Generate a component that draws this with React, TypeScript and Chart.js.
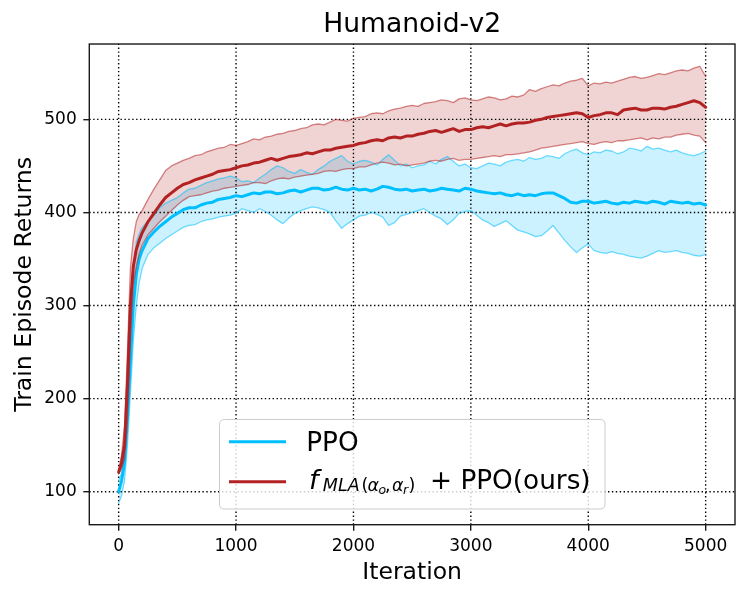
import React, { useEffect, useRef } from 'react';
import { Chart, registerables } from 'chart.js';

Chart.register(...registerables);

// ---------------- data ----------------
const iterations = [
  0, 25, 50, 75, 100, 125, 150, 175, 200, 250, 300, 350, 400, 450,
  500, 550, 600, 650, 700, 750, 800, 850, 900, 950,
  1000, 1050, 1100, 1150, 1200, 1250, 1300, 1350, 1400, 1450,
  1500, 1550, 1600, 1650, 1700, 1750, 1800, 1850, 1900, 1950,
  2000, 2050, 2100, 2150, 2200, 2250, 2300, 2350, 2400, 2450,
  2500, 2550, 2600, 2650, 2700, 2750, 2800, 2850, 2900, 2950,
  3000, 3050, 3100, 3150, 3200, 3250, 3300, 3350, 3400, 3450,
  3500, 3550, 3600, 3650, 3700, 3750, 3800, 3850, 3900, 3950,
  4000, 4050, 4100, 4150, 4200, 4250, 4300, 4350, 4400, 4450,
  4500, 4550, 4600, 4650, 4700, 4750, 4800, 4850, 4900, 4950,
  5000,
];

// PPO (blue)
const ppoMean = [
  100, 112, 131, 180, 240, 300, 333, 350, 359, 372, 379, 385, 390, 395,
  399, 403, 405, 405, 408, 410, 411, 414, 415, 416,
  418, 417, 419, 421, 420, 422, 422, 420, 421, 423,
  424, 422, 424, 426, 426, 424, 425, 427, 425, 424,
  426, 424, 425, 423, 425, 428, 427, 425, 424, 425,
  423, 424, 425, 423, 424, 426, 425, 424, 423, 426,
  425, 423, 422, 421, 420, 421, 419, 418, 420, 418,
  419, 418, 420, 421, 421, 418, 415, 411, 410, 412,
  412, 410, 411, 412, 410, 409, 411, 410, 412, 411,
  410, 412, 411, 409, 412, 411, 410, 411, 409, 410,
  408,
];
const ppoUpper = [
  112, 120, 146, 205, 270, 338, 368, 377, 384, 391, 397, 405, 410, 413,
  416, 421, 425, 426, 429, 432, 434, 436, 437, 439,
  437, 433, 434, 432, 437, 441, 446, 450, 448, 444,
  442, 446, 443, 441, 446, 450, 455, 458, 461, 455,
  452, 455, 456, 454, 451, 457, 462, 456, 450, 452,
  448, 450, 451, 455, 452, 457, 460, 455, 450, 452,
  448, 447, 450, 453, 452, 450, 454, 456, 457, 455,
  459, 457, 458, 461, 460, 458, 463, 466, 468, 464,
  462, 465, 464, 467, 466, 463, 465, 469, 468, 466,
  471, 468, 469, 467, 465, 467, 464, 462, 461, 463,
  466,
];
const ppoLower = [
  88, 96, 112, 150, 205, 262, 300, 325, 340, 355, 362, 367, 372, 376,
  380, 384, 386, 387, 390, 392, 393, 395, 396, 397,
  399, 404, 402, 400, 404, 401, 397, 392, 388, 394,
  399, 402, 404, 406, 405, 403, 400, 391, 383, 388,
  392, 396, 397, 400, 398, 395, 386, 389, 396, 398,
  400, 402, 404, 400, 396, 393, 387, 392, 399, 401,
  402, 397, 392, 389, 385, 388, 391, 386, 381, 379,
  377, 374, 375, 380, 386, 378, 370, 363, 357, 362,
  366, 359, 357, 356, 358, 356, 355, 353, 352, 351,
  353, 356, 359, 357, 358, 359, 357, 356, 354, 353,
  355,
];

// f_MLA + PPO (red)
const mlaMean = [
  121, 131, 150, 215, 300, 342, 360, 370, 378, 390, 399, 408, 416, 421,
  426, 430, 432, 435, 437, 439, 441, 444, 445, 446,
  448, 450, 451, 453, 454, 456, 458, 456, 458, 460,
  461, 462, 464, 463, 465, 467, 467, 469, 470, 471,
  472, 474, 475, 477, 478, 477, 480, 481, 480, 482,
  482, 484, 485, 487, 488, 486, 488, 490, 487, 489,
  489, 491, 492, 491, 493, 495, 493, 495, 496, 496,
  497, 499, 500, 502, 503, 504, 505, 506, 507, 506,
  502, 504, 505, 507, 507, 505, 510, 511, 512, 510,
  510, 512, 512, 511, 513, 514, 516, 518, 520, 518,
  513,
];
const mlaUpper = [
  123, 140, 170, 250, 340, 372, 390, 398, 402, 414, 425, 435, 445, 450,
  453, 456, 458, 461, 462, 465, 467, 469, 470, 473,
  472, 474, 476, 479, 478, 481, 482, 484, 485, 487,
  488, 490, 491, 494, 495, 494, 497, 500, 499, 498,
  501, 502, 503, 506, 507, 506, 509, 511, 512, 514,
  515, 514, 517, 518, 519, 521, 520, 518, 522, 523,
  521, 520, 522, 524, 523, 521, 522, 525, 524, 526,
  532, 530, 533, 535, 537, 536, 539, 541, 542, 544,
  536, 539, 538, 540, 539, 541, 543, 545, 546, 544,
  545, 547, 549, 548, 550, 552, 553, 552, 555, 557,
  546,
];
const mlaLower = [
  119, 125, 135, 175, 262, 322, 342, 356, 365, 376, 383, 390, 396, 402,
  408, 413, 417, 418, 419, 421, 423, 424, 426, 427,
  428, 429, 430, 432, 432, 431, 434, 436, 437, 436,
  438, 439, 440, 441, 442, 444, 445, 444, 446, 447,
  447, 449, 449, 451, 453, 454, 453, 451, 452, 450,
  451, 452, 453, 455, 456, 455, 457, 458, 456, 457,
  457, 458, 459, 460, 461, 460, 462, 462, 463, 464,
  465, 467, 469, 470, 471, 472, 473, 474, 475, 476,
  474, 473, 475, 476, 475, 477, 477, 478, 479, 480,
  478, 480, 479, 481, 481, 483, 484, 485, 483, 482,
  475,
];

const xTicks = [0, 1000, 2000, 3000, 4000, 5000];
const yTicks = [100, 200, 300, 400, 500];
const seriesNames = ['PPO', 'f_MLA(α_o, α_r) + PPO(ours)'];
const titleText = 'Humanoid-v2';
const xTitle = 'Iteration';
const yTitle = 'Train Episode Returns';

// ---------------- styles ----------------
const FONT = "'DejaVu Sans', 'Liberation Sans', sans-serif";
const BLUE = 'rgb(0,191,255)';
const RED = 'rgb(178,34,34)';

const toPoints = (ys: number[]) => iterations.map((x, i) => ({ x, y: ys[i] }));

const mplPlugin = {
  id: 'mplDecor',
  beforeDatasetsDraw(chart: any) {
    // dotted grid above fills, below lines
    const { ctx, chartArea: a, scales } = chart;
    ctx.save();
    ctx.beginPath();
    ctx.rect(a.left, a.top, a.right - a.left, a.bottom - a.top);
    ctx.clip();
    ctx.strokeStyle = '#000';
    ctx.lineWidth = 1.4;
    ctx.setLineDash([1.4, 2.5]);
    for (const v of xTicks) {
      const px = scales.x.getPixelForValue(v);
      ctx.beginPath();
      ctx.moveTo(px, a.bottom);
      ctx.lineTo(px, a.top);
      ctx.stroke();
    }
    for (const v of yTicks) {
      const py = scales.y.getPixelForValue(v);
      ctx.beginPath();
      ctx.moveTo(a.left, py);
      ctx.lineTo(a.right, py);
      ctx.stroke();
    }
    ctx.restore();
  },
  afterDatasetsDraw(chart: any) {
    const { ctx, chartArea: a } = chart;
    ctx.save();
    ctx.strokeStyle = '#1a1a1a';
    ctx.lineWidth = 1.4;
    ctx.strokeRect(a.left, a.top, a.right - a.left, a.bottom - a.top);
    ctx.restore();
  },
  afterDraw(chart: any) {
    const { ctx } = chart;
    ctx.save();
    // legend frame
    const bx = 219.5, by = 419.5, bw = 385.5, bh = 89.5, r = 5;
    ctx.beginPath();
    ctx.moveTo(bx + r, by);
    ctx.lineTo(bx + bw - r, by);
    ctx.quadraticCurveTo(bx + bw, by, bx + bw, by + r);
    ctx.lineTo(bx + bw, by + bh - r);
    ctx.quadraticCurveTo(bx + bw, by + bh, bx + bw - r, by + bh);
    ctx.lineTo(bx + r, by + bh);
    ctx.quadraticCurveTo(bx, by + bh, bx, by + bh - r);
    ctx.lineTo(bx, by + r);
    ctx.quadraticCurveTo(bx, by, bx + r, by);
    ctx.closePath();
    ctx.fillStyle = 'rgba(255,255,255,0.8)';
    ctx.fill();
    ctx.strokeStyle = '#cccccc';
    ctx.lineWidth = 1;
    ctx.stroke();

    // legend handles
    ctx.lineWidth = 3;
    ctx.strokeStyle = BLUE;
    ctx.beginPath();
    ctx.moveTo(229, 441.7);
    ctx.lineTo(286, 441.7);
    ctx.stroke();
    ctx.strokeStyle = RED;
    ctx.beginPath();
    ctx.moveTo(229, 481.7);
    ctx.lineTo(286, 481.7);
    ctx.stroke();

    // legend texts
    ctx.fillStyle = '#000';
    ctx.textAlign = 'left';
    ctx.textBaseline = 'alphabetic';
    ctx.font = `26.3px ${FONT}`;
    ctx.fillText(seriesNames[0], 306.2, 450.7);

    const pieces: [string, string, number, number][] = [
      ['f', `italic 27px ${FONT}`, 309, 488.7],
      ['MLA', `italic 17.5px ${FONT}`, 322.8, 490.6],
      ['(', `17.5px ${FONT}`, 361.5, 490.6],
      ['α', `italic 17.5px ${FONT}`, 367.5, 490.6],
      ['o', `italic 12.5px ${FONT}`, 378.5, 494.3],
      [',', `17.5px ${FONT}`, 385, 490.6],
      ['α', `italic 17.5px ${FONT}`, 392, 490.6],
      ['r', `italic 12.5px ${FONT}`, 403, 494.3],
      [')', `17.5px ${FONT}`, 408.5, 490.6],
      ['+ PPO(ours)', `26.3px ${FONT}`, 430, 488.7],
    ];
    for (const [t, f, x, y] of pieces) {
      ctx.font = f;
      ctx.fillText(t, x, y);
    }
    ctx.restore();
  },
};

export default function App() {
  const ref = useRef<HTMLCanvasElement | null>(null);

  useEffect(() => {
    if (!ref.current) return;
    const edge = (c: string) => c.replace('rgb(', 'rgba(').replace(')', ',0.55)');
    const fillc = (c: string) => c.replace('rgb(', 'rgba(').replace(')', ',0.2)');
    const chart = new Chart(ref.current, {
      type: 'line',
      data: {
        datasets: [
          { label: 'mla mean', data: toPoints(mlaMean), borderColor: RED, borderWidth: 3, pointRadius: 0, fill: false },
          { label: 'mla upper', data: toPoints(mlaUpper), borderColor: edge(RED), borderWidth: 1.3, pointRadius: 0, fill: '+1', backgroundColor: fillc(RED) },
          { label: 'mla lower', data: toPoints(mlaLower), borderColor: edge(RED), borderWidth: 1.3, pointRadius: 0, fill: false },
          { label: 'ppo mean', data: toPoints(ppoMean), borderColor: BLUE, borderWidth: 3, pointRadius: 0, fill: false },
          { label: 'ppo upper', data: toPoints(ppoUpper), borderColor: edge(BLUE), borderWidth: 1.3, pointRadius: 0, fill: '+1', backgroundColor: fillc(BLUE) },
          { label: 'ppo lower', data: toPoints(ppoLower), borderColor: edge(BLUE), borderWidth: 1.3, pointRadius: 0, fill: false },
        ],
      },
      options: {
        responsive: false,
        animation: false,
        layout: { padding: { left: 0, right: 13, top: 0, bottom: 0 }, autoPadding: false },
        elements: { line: { tension: 0, borderJoinStyle: 'round', borderCapStyle: 'round' } },
        plugins: {
          legend: { display: false },
          tooltip: { enabled: false },
          filler: { propagate: false, drawTime: 'beforeDatasetsDraw' },
          title: {
            display: true,
            text: titleText,
            fullSize: false,
            color: '#000',
            font: { family: FONT, size: 26.6, weight: 'normal', lineHeight: 1.2 },
            padding: { top: 8.8, bottom: 3.3 },
          },
        },
        scales: {
          x: {
            type: 'linear',
            min: -250,
            max: 5250,
            afterBuildTicks: (s: any) => { s.ticks = xTicks.map((v) => ({ value: v })); },
            afterFit: (s: any) => { s.height = 73.3; },
            ticks: {
              color: '#000',
              font: { family: FONT, size: 17 },
              padding: 5.4,
              maxRotation: 0,
              autoSkip: false,
              callback: (v: any) => String(v),
            },
            grid: { display: true, drawOnChartArea: false, drawTicks: true, tickLength: 6, color: '#1a1a1a', lineWidth: 1.4 },
            border: { display: false },
            title: {
              display: true,
              text: xTitle,
              color: '#000',
              font: { family: FONT, size: 23.5, lineHeight: 1.2 },
              padding: { top: 0, bottom: 10.7 },
            },
          },
          y: {
            type: 'linear',
            min: 64.6,
            max: 580.9,
            afterBuildTicks: (s: any) => { s.ticks = yTicks.map((v) => ({ value: v })); },
            afterFit: (s: any) => { s.width = 89.3; },
            ticks: {
              color: '#000',
              font: { family: FONT, size: 17 },
              padding: 6.6,
              autoSkip: false,
              callback: (v: any) => String(v),
            },
            grid: { display: true, drawOnChartArea: false, drawTicks: true, tickLength: 6, color: '#1a1a1a', lineWidth: 1.4 },
            border: { display: false },
            title: {
              display: true,
              text: yTitle,
              color: '#000',
              font: { family: FONT, size: 23.6, lineHeight: 1.2 },
              padding: { top: 10.5, bottom: 0 },
            },
          },
        },
      } as any,
      plugins: [mplPlugin],
    });
    return () => chart.destroy();
  }, []);

  return (
    <div style={{ position: 'fixed', left: 0, top: 0, width: 748, height: 598, background: '#fff' }}>
      <canvas ref={ref} width={748} height={598} style={{ width: 748, height: 598, display: 'block' }} />
    </div>
  );
}
